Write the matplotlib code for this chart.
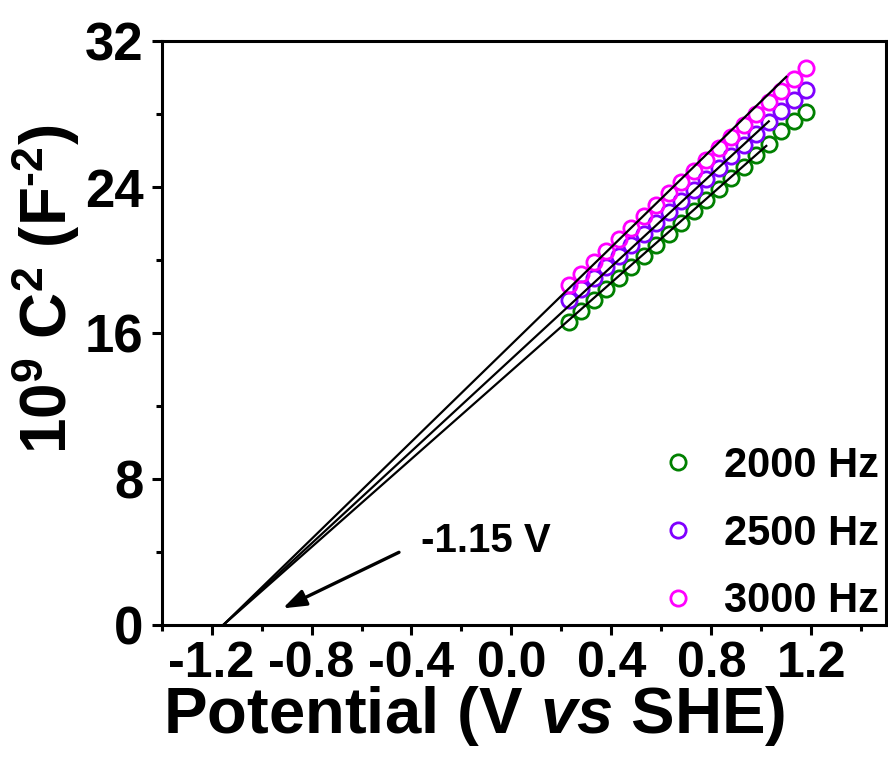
import numpy as np
import matplotlib
matplotlib.use('Agg')
import matplotlib.pyplot as plt

# potential values (V vs SHE), same for all three frequencies
potential = [0.23, 0.28, 0.33, 0.38, 0.43, 0.48, 0.53, 0.58, 0.63, 0.68,
             0.73, 0.78, 0.83, 0.88, 0.93, 0.98, 1.03, 1.08, 1.13, 1.18]

# 10^9 C^-2 values
c2_2000 = [16.60, 17.20, 17.80, 18.40, 19.00, 19.60, 20.25, 20.85, 21.45, 22.05,
           22.70, 23.30, 23.90, 24.50, 25.10, 25.75, 26.35, 27.05, 27.60, 28.10]
c2_2500 = [17.80, 18.40, 19.00, 19.60, 20.25, 20.85, 21.45, 22.05, 22.65, 23.25,
           23.85, 24.45, 25.05, 25.70, 26.30, 26.90, 27.55, 28.15, 28.75, 29.30]
c2_3000 = [18.65, 19.25, 19.90, 20.50, 21.15, 21.75, 22.40, 23.00, 23.65, 24.25,
           24.90, 25.50, 26.15, 26.75, 27.40, 28.00, 28.65, 29.25, 29.90, 30.50]

labels = ['2000 Hz', '2500 Hz', '3000 Hz']
colors = ['#008000', '#7F00FF', '#FF00FF']

# linear fits: x intercept, slope and where each drawn line stops
fit_x0 = [-1.155, -1.155, -1.155]
fit_slope = [12.07, 12.63, 13.32]
fit_xend = [1.02, 1.03, 1.10]

plt.rcParams['font.family'] = 'Liberation Sans'
plt.rcParams['font.weight'] = 'bold'
plt.rcParams['mathtext.fontset'] = 'custom'
plt.rcParams['mathtext.rm'] = 'Liberation Sans:bold'
plt.rcParams['mathtext.it'] = 'Liberation Sans:italic:bold'
plt.rcParams['mathtext.bf'] = 'Liberation Sans:bold'

fig = plt.figure(figsize=(8.88, 7.58), dpi=100)
ax = fig.add_axes([0.182, 0.175, 0.816, 0.771])

# fitted lines
for x0, k, xe in zip(fit_x0, fit_slope, fit_xend):
    xs = np.array([x0, xe])
    ax.plot(xs, k * (xs - x0), color='black', lw=1.6, zorder=3)

# data circles
for ys, lab, col in zip([c2_2000, c2_2500, c2_3000], labels, colors):
    ax.plot(potential, ys, 'o', mfc='none', mec=col, mew=2.0, ms=11, label=lab, zorder=2)

# arrow + annotation
ax.annotate('', xy=(-0.915, 0.93), xytext=(-0.45, 4.0),
            arrowprops=dict(arrowstyle='-|>,head_length=1.4,head_width=0.5', color='black',
                            lw=2.4, shrinkA=0, shrinkB=0))
ax.text(-0.36, 4.6, '-1.15 V', fontsize=29, fontweight='bold', ha='left', va='center')

ax.set_xlim(-1.4, 1.5)
ax.set_ylim(0, 32)
ax.set_xticks([-1.2, -0.8, -0.4, 0.0, 0.4, 0.8, 1.2])
ax.set_xticks(np.arange(-1.4, 1.45, 0.2), minor=True)
ax.set_yticks([0, 8, 16, 24, 32])
ax.set_yticks([4, 12, 20, 28], minor=True)
ax.set_xticklabels(['-1.2', '-0.8', '-0.4', '0.0', '0.4', '0.8', '1.2'])

for s in ax.spines.values():
    s.set_linewidth(2.2)
ax.tick_params(which='major', direction='out', length=7, width=2.2, top=False, right=False)
ax.tick_params(which='minor', direction='out', length=4, width=2.2, top=False, right=False)
ax.tick_params(axis='y', labelsize=38, pad=6)
ax.tick_params(axis='x', labelsize=36, pad=4)

ax.set_xlabel('Potential (V $\\mathit{vs}$ SHE)', fontsize=47, fontweight='bold', labelpad=0)
ax.xaxis.set_label_coords(0.431, -0.101)
ax.set_ylabel('10$^9$ C$^2$ (F$^{\\text{-}2}$)', fontsize=46, fontweight='bold')
ax.yaxis.set_label_coords(-0.11, 0.575)

ax.legend(loc='lower right', frameon=False, fontsize=30, handletextpad=0.5,
          labelspacing=0.67, borderaxespad=0.1, handlelength=1.2,
          bbox_to_anchor=(1.019, -0.029))

fig.savefig('out.png', dpi=100)
